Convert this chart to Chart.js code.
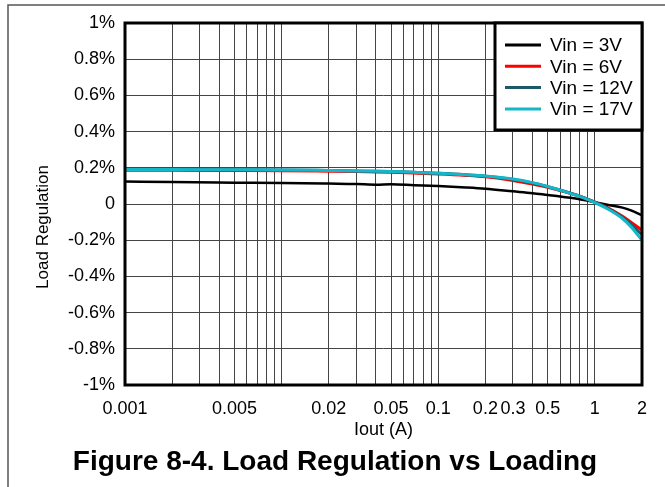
<!DOCTYPE html>
<html>
<head>
<meta charset="utf-8">
<script src="https://cdn.jsdelivr.net/npm/chart.js@4/dist/chart.umd.min.js"></script>
<style>
  html, body { margin: 0; padding: 0; background: #fff; }
  canvas { display: block; }
</style>
</head>
<body>
<canvas id="loadChart" width="665" height="487"></canvas>
<script>
// Iout (A) e valores de regulação (%)
const iout = [0.001, 0.002, 0.005, 0.01, 0.02, 0.03, 0.04, 0.05, 0.07, 0.1, 0.15, 0.2, 0.3, 0.4, 0.5, 0.6, 0.7, 0.8, 1, 1.2, 1.5, 1.7, 2];
const vin3 = [0.125, 0.121, 0.118, 0.116, 0.113, 0.111, 0.107, 0.109, 0.104, 0.099, 0.091, 0.084, 0.07, 0.06, 0.05, 0.042, 0.034, 0.026, 0.01, -0.004, -0.02, -0.035, -0.062];
const vin6 = [0.186, 0.186, 0.185, 0.184, 0.181, 0.179, 0.177, 0.175, 0.171, 0.166, 0.158, 0.15, 0.13, 0.11, 0.092, 0.074, 0.058, 0.043, 0.01, -0.02, -0.068, -0.1, -0.145];
const vin12 = [0.19, 0.19, 0.189, 0.188, 0.185, 0.183, 0.181, 0.179, 0.175, 0.17, 0.162, 0.154, 0.136, 0.116, 0.096, 0.077, 0.06, 0.044, 0.01, -0.022, -0.073, -0.112, -0.17];
const vin17 = [0.19, 0.19, 0.189, 0.188, 0.185, 0.183, 0.181, 0.179, 0.175, 0.17, 0.162, 0.155, 0.138, 0.118, 0.097, 0.077, 0.058, 0.042, 0.008, -0.026, -0.08, -0.125, -0.2];

const seriesLabels = ["Vin = 3V", "Vin = 6V", "Vin = 12V", "Vin = 17V"];
const xTickLabels = [0.001, 0.005, 0.02, 0.05, 0.1, 0.2, 0.3, 0.5, 1, 2];

const cores = ["#000000", "#ff0000", "#1f5868", "#14b6c8"];
const FONT = "'Liberation Sans', Arial, sans-serif";

function pontos(ys) {
  return iout.map((x, i) => ({ x: x, y: ys[i] }));
}

// moldura, legenda e título do eixo y
const decor = {
  id: "decor",
  beforeDraw(chart) {
    const ctx = chart.ctx;
    ctx.save();
    ctx.fillStyle = "#fff";
    ctx.fillRect(0, 0, chart.width, chart.height);
    ctx.restore();
  },
  afterDatasetsDraw(chart) {
    const { ctx, chartArea: a } = chart;
    ctx.save();
    ctx.strokeStyle = "#000";
    ctx.lineWidth = 3;
    ctx.strokeRect(a.left, a.top, a.right - a.left, a.bottom - a.top);
    ctx.restore();
  },
  afterDraw(chart) {
    const { ctx, chartArea: a } = chart;
    ctx.save();
    // legenda
    const w = 147, h = 107;
    const lx = a.right - w, ly = a.top;
    ctx.fillStyle = "#fff";
    ctx.fillRect(lx, ly, w, h);
    ctx.strokeStyle = "#000";
    ctx.lineWidth = 3;
    ctx.strokeRect(lx, ly, w, h);
    ctx.font = "19px " + FONT;
    ctx.textBaseline = "middle";
    ctx.textAlign = "left";
    chart.data.datasets.forEach((ds, i) => {
      const y = ly + 22 + i * 21.3;
      ctx.strokeStyle = ds.borderColor;
      ctx.lineWidth = 3;
      ctx.beginPath();
      ctx.moveTo(lx + 10, y);
      ctx.lineTo(lx + 46, y);
      ctx.stroke();
      ctx.fillStyle = "#000";
      ctx.fillText(ds.label, lx + 55, y + 1);
    });
    // título do eixo y
    ctx.translate(43, 227);
    ctx.rotate(-Math.PI / 2);
    ctx.font = "17px " + FONT;
    ctx.textAlign = "center";
    ctx.fillText("Load Regulation", 0, 0);
    ctx.restore();
    // borda da figura
    ctx.save();
    ctx.strokeStyle = "#555";
    ctx.lineWidth = 1.5;
    ctx.beginPath();
    ctx.moveTo(chart.width, 5);
    ctx.lineTo(8, 5);
    ctx.lineTo(8, chart.height);
    ctx.stroke();
    ctx.restore();
  }
};

const ctx = document.getElementById("loadChart").getContext("2d");
new Chart(ctx, {
  type: "line",
  data: {
    datasets: [
      { label: seriesLabels[0], data: pontos(vin3), borderColor: cores[0], borderWidth: 2.5, order: 4 },
      { label: seriesLabels[1], data: pontos(vin6), borderColor: cores[1], borderWidth: 3, order: 3 },
      { label: seriesLabels[2], data: pontos(vin12), borderColor: cores[2], borderWidth: 3, order: 2 },
      { label: seriesLabels[3], data: pontos(vin17), borderColor: cores[3], borderWidth: 3, order: 1 }
    ]
  },
  options: {
    responsive: false,
    animation: false,
    layout: { padding: { left: 28, right: 23, top: 23, bottom: 0 } },
    elements: {
      point: { radius: 0 },
      line: { cubicInterpolationMode: "monotone", fill: false }
    },
    plugins: {
      legend: { display: false },
      tooltip: { enabled: false },
      title: {
        display: true,
        position: "bottom",
        text: "Figure 8-4. Load Regulation vs Loading",
        color: "#000",
        font: { family: FONT, size: 28, weight: "bold" },
        padding: { top: 4.2, bottom: 8.2 }
      }
    },
    scales: {
      x: {
        type: "logarithmic",
        min: 0.001,
        max: 2,
        afterBuildTicks(scale) {
          const t = [];
          for (let e = -3; e <= 0; e++) {
            for (let m = 1; m <= 9; m++) {
              const v = +(m * Math.pow(10, e)).toPrecision(3);
              if (v >= 0.001 && v <= 2) t.push({ value: v });
            }
          }
          scale.ticks = t;
        },
        afterFit(scale) { scale.height = 56; },
        grid: { color: "#444", lineWidth: 1, drawTicks: false },
        border: { display: false },
        ticks: {
          autoSkip: false,
          maxRotation: 0,
          padding: 13,
          color: "#000",
          font: { family: FONT, size: 18 },
          callback: (v) => xTickLabels.includes(v) ? String(v) : ""
        },
        title: {
          display: true,
          text: "Iout (A)",
          color: "#000",
          font: { family: FONT, size: 18 },
          padding: { top: 0, bottom: 0 }
        }
      },
      y: {
        min: -1,
        max: 1,
        afterFit(scale) { scale.width = 97; },
        grid: { color: "#444", lineWidth: 1, drawTicks: false },
        border: { display: false },
        ticks: {
          stepSize: 0.2,
          padding: 10,
          color: "#000",
          font: { family: FONT, size: 18 },
          callback: (v) => {
            const r = Math.round(v * 10) / 10;
            return r === 0 ? "0" : r + "%";
          }
        }
      }
    }
  },
  plugins: [decor]
});
</script>
</body>
</html>
